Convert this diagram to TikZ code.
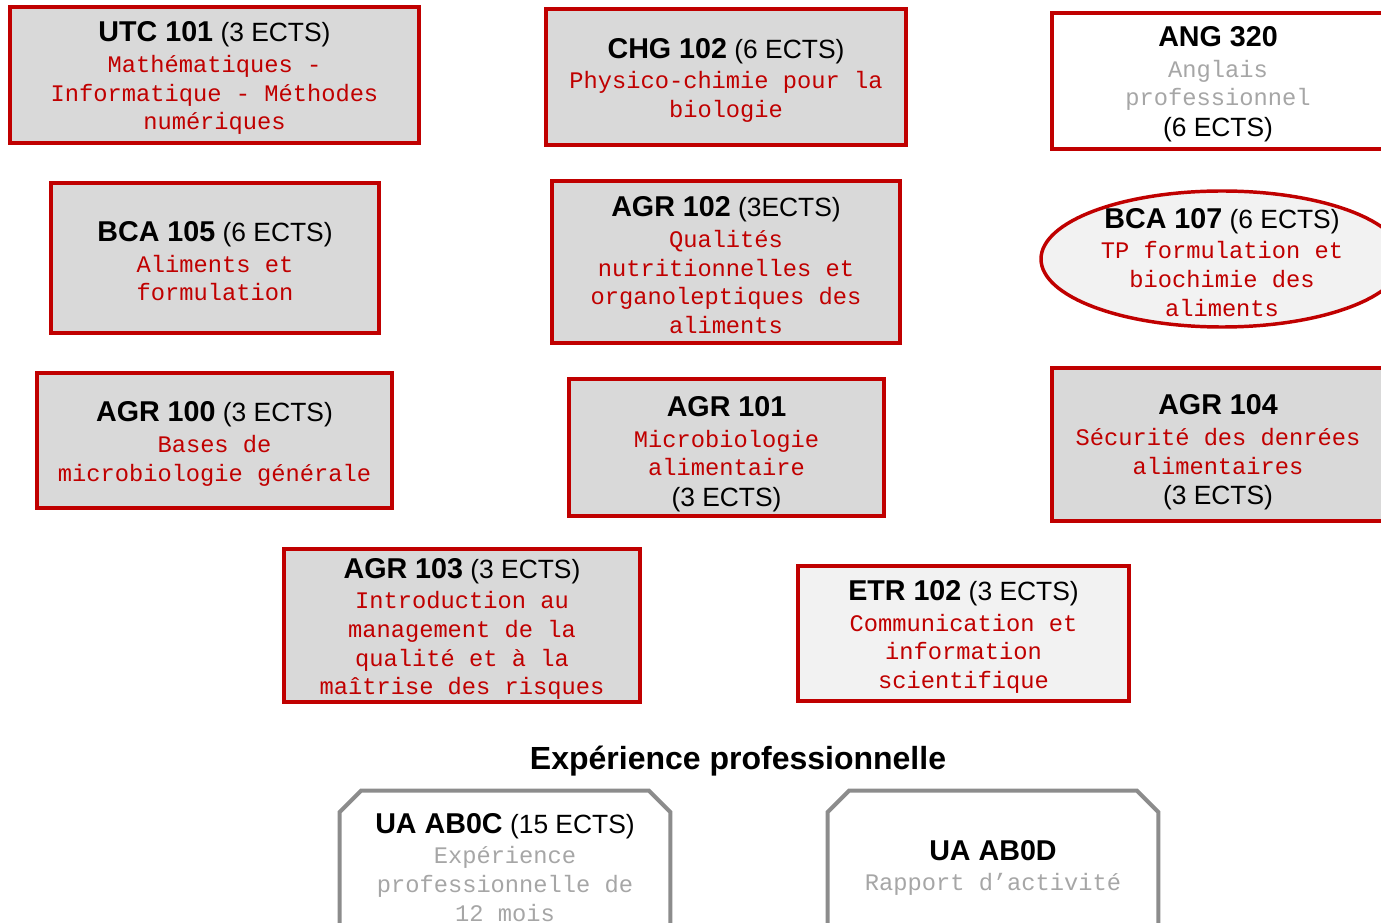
\documentclass[tikz,border=0pt]{standalone}
\usepackage{fontspec}
\setmainfont{Liberation Sans}
\setmonofont{Liberation Mono}
\usepackage{xcolor}
\usepackage{tikz}
\usetikzlibrary{shapes}
\definecolor{uered}{HTML}{C00000}
\definecolor{uegray}{HTML}{D9D9D9}
\definecolor{uelight}{HTML}{F2F2F2}
\definecolor{uaframe}{HTML}{8C8C8C}
\definecolor{uatext}{HTML}{A6A6A6}
\newcommand{\ueup}[1]{\rule{0pt}{#1}}
\newcommand{\uecode}[1]{{\color{black}\rmfamily\fontsize{21.5}{23}\selectfont\bfseries #1}}
\newcommand{\uects}[1]{{\color{black}\rmfamily\fontsize{19.8}{23}\selectfont #1}}
\newcommand{\uehead}[2]{\ueup{20pt}\uecode{#1}{\rmfamily\fontsize{19.8}{23}\selectfont\ }\uects{#2}}
\tikzstyle{ue} = [rectangle, draw=uered, line width=2.6pt, fill=uegray, text=uered, align=center, inner sep=0pt, font=\ttfamily\fontsize{17.8}{21.5}\selectfont]
\tikzstyle{uetp} = [ue, ellipse, fill=uelight, inner sep=-13pt]
\tikzstyle{uatxt} = [text=uatext, align=center, inner sep=0pt, font=\ttfamily\fontsize{17.8}{21.5}\selectfont]
\tikzstyle{uabox} = [rectangle, inner sep=0pt, minimum width=247.5pt, minimum height=150pt]
\tikzstyle{ualine} = [draw=uaframe, line width=3pt]

\begin{document}
\begin{tikzpicture}[x=0.75pt,y=-0.75pt]
\useasboundingbox (0,0) rectangle (1381,923);
\clip (0,0) rectangle (1381,923);
% premiere colonne
\node [ue, minimum width=306.75pt, minimum height=102pt] (utc101) at (214.5,75) {\uehead{UTC 101}{(3 ECTS)}\\[1.5pt] Mathématiques -\\ Informatique - Méthodes\\ numériques};
\node [ue, minimum width=246pt, minimum height=112.5pt] (bca105) at (215,258) {\uehead{BCA 105}{(6 ECTS)}\\[1.5pt] Aliments et\\ formulation};
\node [ue, minimum width=266.25pt, minimum height=101.25pt] (agr100) at (214.5,440.5) {\uehead{AGR 100}{(3 ECTS)}\\[1.5pt] Bases de\\ microbiologie générale};
\node [ue, minimum width=267pt, minimum height=114.75pt] (agr103) at (462,625.5) {\uehead{AGR 103}{(3 ECTS)}\\[1.5pt] Introduction au\\ management de la\\ qualité et à la\\ maîtrise des risques};
% deuxieme colonne
\node [ue, minimum width=270pt, minimum height=102pt] (chg102) at (726,77) {\uehead{CHG 102}{(6 ECTS)}\\[1.5pt] Physico-chimie pour la\\ biologie};
\node [ue, minimum width=261pt, minimum height=121.5pt] (agr102) at (726,262) {\uehead{AGR 102}{(3ECTS)}\\[1.5pt] Qualités\\ nutritionnelles et\\ organoleptiques des\\ aliments};
\node [ue, minimum width=236.25pt, minimum height=102.75pt] (agr101) at (726.5,447.5) {\ueup{25pt}\uecode{AGR 101}\\[1.5pt] Microbiologie\\ alimentaire\\[1.5pt] \uects{(3 ECTS)}};
\node [ue, fill=uelight, minimum width=248.25pt, minimum height=101.25pt] (etr102) at (963.5,633.5) {\uehead{ETR 102}{(3 ECTS)}\\[1.5pt] Communication et\\ information\\ scientifique};
% troisieme colonne
\node [ue, fill=white, text=uatext, minimum width=249pt, minimum height=102pt] (ang320) at (1218,81) {\ueup{20pt}\uecode{ANG 320}\\[1.5pt] Anglais\\ professionnel\\[1.5pt] \uects{(6 ECTS)}};
\node [uetp, minimum width=271.5pt, minimum height=102pt] (bca107) at (1222,259) {\uehead{BCA 107}{(6 ECTS)}\\[1.5pt] TP formulation et\\ biochimie des\\ aliments};
\node [ue, minimum width=249pt, minimum height=114.75pt] (agr104) at (1218,444.5) {\ueup{27pt}\uecode{AGR 104}\\[1.5pt] Sécurité des denrées\\ alimentaires\\[1.5pt] \uects{(3 ECTS)}};
% experience professionnelle
\node (stage) at (738,761) {\fontsize{24}{26}\selectfont\bfseries Expérience professionnelle};
\node [uabox] (ab0c) at (505,891) {};
\node [uabox] (ab0d) at (993,891) {};
\draw [ualine] (ab0c.south west) -- ([yshift=-16pt]ab0c.north west) -- ([xshift=16pt]ab0c.north west) -- ([xshift=-16pt]ab0c.north east) -- ([yshift=-16pt]ab0c.north east) -- (ab0c.south east);
\draw [ualine] (ab0d.south west) -- ([yshift=-16pt]ab0d.north west) -- ([xshift=16pt]ab0d.north west) -- ([xshift=-16pt]ab0d.north east) -- ([yshift=-16pt]ab0d.north east) -- (ab0d.south east);
\node [uatxt] (ab0ctxt) at (505,864) {\uehead{UA AB0C}{(15 ECTS)}\\[1.5pt] Expérience\\ professionnelle de\\ 12 mois};
\node [uatxt] (ab0dtxt) at (993,868) {\uecode{UA AB0D}\\[1.5pt] Rapport d’activité};
\end{tikzpicture}
\end{document}
